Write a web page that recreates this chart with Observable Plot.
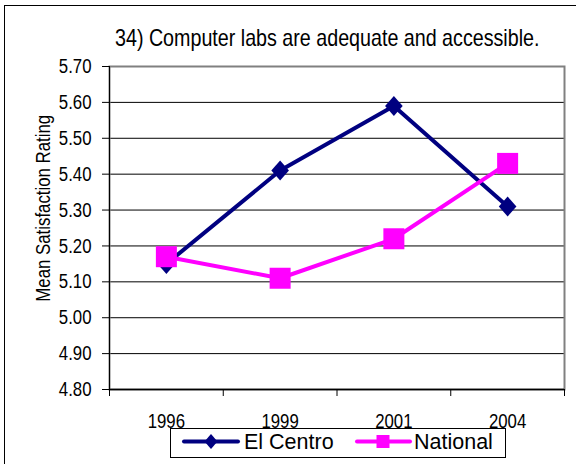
<!DOCTYPE html>
<html><head><meta charset="utf-8">
<script src="https://cdn.jsdelivr.net/npm/d3@7"></script>
<script src="https://cdn.jsdelivr.net/npm/@observablehq/plot@0.6"></script>
<style>
html,body{margin:0;padding:0;background:#fff;}
#wrap{position:relative;width:576px;height:464px;overflow:hidden;background:#fff;}
#chart{position:absolute;left:0;top:0;}
#border{position:absolute;left:4px;top:5px;width:700px;height:600px;border-left:1px solid #000;border-top:1px solid #000;pointer-events:none;}
#title{position:absolute;left:115px;top:26px;font-family:"Liberation Sans",Arial,sans-serif;font-size:24px;line-height:24px;white-space:nowrap;color:#000;transform:scaleX(0.82);transform-origin:0 50%;}
#ylabel{position:absolute;left:-87.5px;top:198.25px;width:260px;height:20.5px;text-align:center;font-family:"Liberation Sans",Arial,sans-serif;font-size:20.5px;line-height:20.5px;white-space:nowrap;color:#000;transform:rotate(-90deg) scaleX(0.82);transform-origin:50% 50%;}
#legend{position:absolute;left:170px;top:428px;width:336px;height:30px;box-sizing:border-box;border:1px solid #000;background:#fff;}
#legend svg{display:block;}
#legend text{font-family:"Liberation Sans",Arial,sans-serif;font-size:21.5px;fill:#000;}
</style></head>
<body><div id="wrap">
<div id="chart"></div>
<div id="border"></div>
<div id="title">34) Computer labs are adequate and accessible.</div>
<div id="ylabel">Mean Satisfaction Rating</div>
<div id="legend"></div>
</div>
<script>
const years = ["1996", "1999", "2001", "2004"];
const elCentro = [5.15, 5.41, 5.59, 5.31];
const national = [5.17, 5.11, 5.22, 5.43];
const yTicks = [4.8, 4.9, 5.0, 5.1, 5.2, 5.3, 5.4, 5.5, 5.6, 5.7];
const seriesNames = ["El Centro", "National"];
const seriesColors = ["#000080", "#ff00ff"];

const diamond = {draw(ctx, size) {
  const r = Math.sqrt(size / Math.PI);
  ctx.moveTo(0, -r); ctx.lineTo(0.88 * r, 0); ctx.lineTo(0, r); ctx.lineTo(-0.88 * r, 0); ctx.closePath();
}};
const square = {draw(ctx, size) {
  const r = Math.sqrt(size / Math.PI);
  ctx.rect(-r, -r, 2 * r, 2 * r);
}};

const elRows = years.map((year, i) => ({i, year, value: elCentro[i]}));
const natRows = years.map((year, i) => ({i, year, value: national[i]}));
const xOf = d => d.i + 0.5;
const FS = 20.5;

const chart = Plot.plot({
  width: 576, height: 464,
  marginLeft: 109, marginRight: 12, marginTop: 66, marginBottom: 75,
  style: {background: "transparent", fontFamily: '"Liberation Sans",Arial,sans-serif', fontSize: FS + "px", color: "#000", overflow: "visible"},
  x: {type: "linear", domain: [0, years.length], axis: null},
  y: {type: "linear", domain: [yTicks[0], yTicks[yTicks.length - 1]], axis: null},
  marks: [
    Plot.ruleY(yTicks.slice(1, -1), {stroke: "#000", strokeWidth: 1}),
    Plot.frame({stroke: "#808080", strokeWidth: 2}),
    Plot.ruleX([0], {stroke: "#000", strokeWidth: 1}),
    Plot.ruleY([yTicks[0]], {stroke: "#000", strokeWidth: 1.5}),
    Plot.axisY(yTicks, {tickSize: 7, tickPadding: 11, tickFormat: d => d.toFixed(2), label: null, stroke: "#000", fill: "#000", fontSize: FS}),
    Plot.axisX(d3.range(years.length + 1), {tickSize: 7, tickFormat: () => "", label: null, stroke: "#000"}),
    Plot.axisX(years.map((_, i) => i + 0.5), {tickSize: 0, tickPadding: 24, tickFormat: v => years[Math.floor(v)], label: null, fill: "#000", fontSize: FS}),
    Plot.line(elRows, {x: xOf, y: "value", stroke: seriesColors[0], strokeWidth: 4}),
    Plot.dot(elRows, {x: xOf, y: "value", symbol: diamond, r: 10, fill: seriesColors[0], stroke: null}),
    Plot.line(natRows, {x: xOf, y: "value", stroke: seriesColors[1], strokeWidth: 4}),
    Plot.dot(natRows, {x: xOf, y: "value", symbol: square, r: 10.5, fill: seriesColors[1], stroke: null})
  ]
});
document.getElementById("chart").appendChild(chart);

// Condense axis tick labels (narrow face, as in the original), anchored in place
for (const t of chart.querySelectorAll("text")) {
  if (!t.textContent) continue;
  const bb = t.getBBox();
  const anchor = getComputedStyle(t).textAnchor;
  const ax = anchor === "end" ? bb.x + bb.width : anchor === "middle" ? bb.x + bb.width / 2 : bb.x;
  const prev = t.getAttribute("transform") || "";
  t.setAttribute("transform", `${prev} translate(${ax},0) scale(0.82,1) translate(${-ax},0)`.trim());
}

// Legend
const ns = "http://www.w3.org/2000/svg";
const lsvg = document.createElementNS(ns, "svg");
lsvg.setAttribute("width", 334); lsvg.setAttribute("height", 28);
const items = [
  {name: seriesNames[0], color: seriesColors[0], x0: 13, x1: 67, cx: 40, tx: 73, shape: "diamond"},
  {name: seriesNames[1], color: seriesColors[1], x0: 186, x1: 239, cx: 212, tx: 243, shape: "square"}
];
const cy = 12.5;
for (const it of items) {
  const ln = document.createElementNS(ns, "line");
  ln.setAttribute("x1", it.x0); ln.setAttribute("x2", it.x1); ln.setAttribute("y1", cy); ln.setAttribute("y2", cy);
  ln.setAttribute("stroke", it.color); ln.setAttribute("stroke-width", 4); ln.setAttribute("stroke-linecap", "round");
  lsvg.appendChild(ln);
  const p = document.createElementNS(ns, "path");
  if (it.shape === "diamond") p.setAttribute("d", `M${it.cx},${cy-7.5}L${it.cx+6.5},${cy}L${it.cx},${cy+7.5}L${it.cx-6.5},${cy}Z`);
  else p.setAttribute("d", `M${it.cx-6.5},${cy-6.5}h13v13h-13Z`);
  p.setAttribute("fill", it.color);
  lsvg.appendChild(p);
  const t = document.createElementNS(ns, "text");
  t.setAttribute("x", it.tx); t.setAttribute("y", 20.3);
  t.textContent = it.name;
  lsvg.appendChild(t);
}
document.getElementById("legend").appendChild(lsvg);
</script>
</body></html>
